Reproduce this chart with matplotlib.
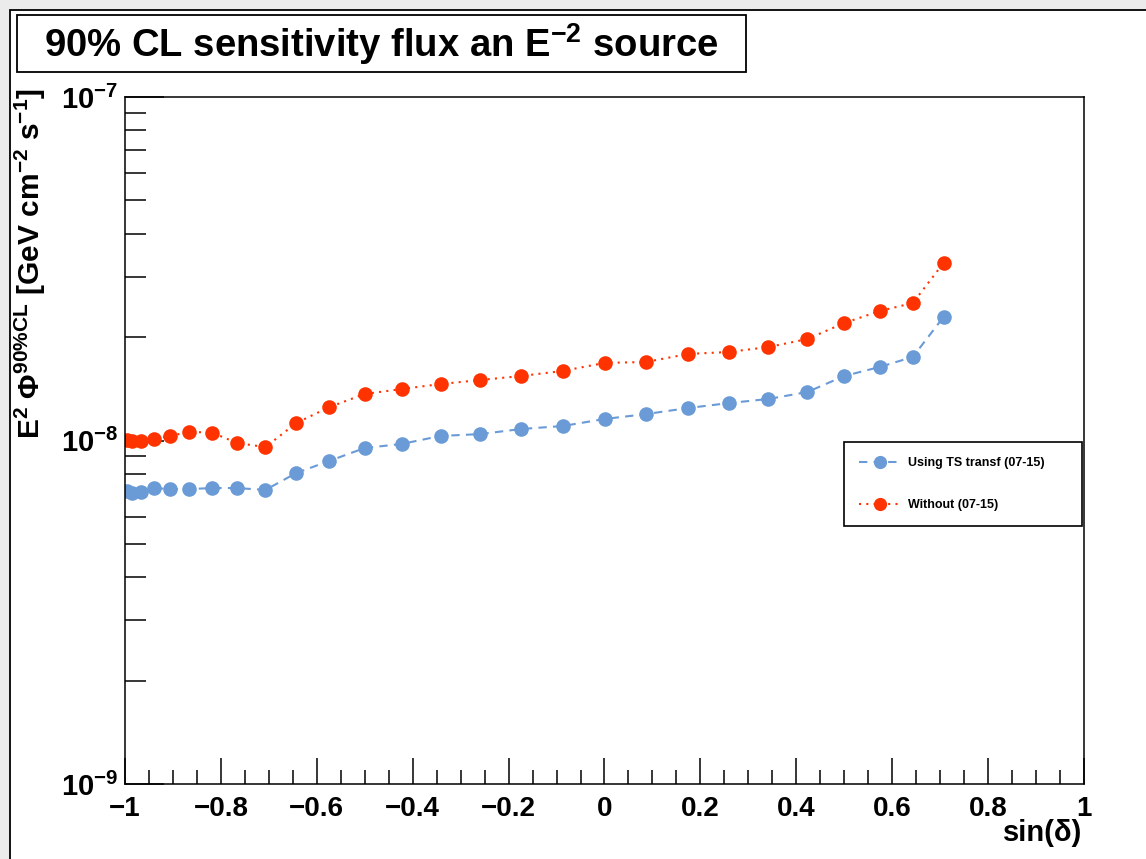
import numpy as np
import matplotlib
matplotlib.use("Agg")
import matplotlib.pyplot as plt
from matplotlib.patches import Rectangle
from matplotlib.ticker import FixedLocator, LogLocator, NullFormatter

plt.rcParams["font.family"] = ["Liberation Sans", "DejaVu Sans"]
plt.rcParams["font.weight"] = "bold"
plt.rcParams["mathtext.fontset"] = "custom"
plt.rcParams["mathtext.rm"] = "Liberation Sans:bold"
plt.rcParams["mathtext.bf"] = "Liberation Sans:bold"
plt.rcParams["mathtext.it"] = "Liberation Sans:bold"
plt.rcParams["axes.unicode_minus"] = True

# sin(declination) of each tested source position
sin_dec = [-0.996, -0.985, -0.966, -0.940, -0.906, -0.866, -0.819, -0.766, -0.707,
           -0.643, -0.574, -0.500, -0.423, -0.342, -0.259, -0.174, -0.087, 0.0,
           0.087, 0.174, 0.259, 0.342, 0.423, 0.500, 0.574, 0.643, 0.707]

# 90% CL sensitivity, in units of 1e-8 GeV cm^-2 s^-1
flux_ts_transf = [0.713, 0.703, 0.708, 0.727, 0.722, 0.722, 0.727, 0.727, 0.718,
                  0.804, 0.872, 0.951, 0.977, 1.031, 1.044, 1.080, 1.102, 1.155,
                  1.194, 1.243, 1.285, 1.321, 1.384, 1.541, 1.637, 1.751, 2.288]
flux_without = [1.003, 1.000, 0.997, 1.010, 1.031, 1.059, 1.055, 0.983, 0.957,
                1.124, 1.251, 1.366, 1.412, 1.460, 1.500, 1.541, 1.594, 1.682,
                1.693, 1.786, 1.810, 1.871, 1.974, 2.198, 2.382, 2.513, 3.286]

labels = ["Using TS transf (07-15)", "Without (07-15)"]

W, H = 1146, 859
fig = plt.figure(figsize=(W / 100, H / 100), dpi=100, facecolor="#ebebeb")

# canvas pad, kept behind the axes
fig.patches.append(Rectangle((10 / W, -0.01), 1.02, 1 - 10 / H + 0.01, transform=fig.transFigure,
                             facecolor="white", edgecolor="black", linewidth=1.3, zorder=-5))

ax = fig.add_axes([125 / W, 1 - 784 / H, (1084 - 125) / W, (784 - 97) / H])
ax.set_yscale("log")
ax.set_xlim(-1, 1)
ax.set_ylim(1e-9, 1e-7)
ax.set_facecolor("white")

x = np.array(sin_dec)
ax.plot(x, np.array(flux_ts_transf) * 1e-8, linestyle=(0, (4, 3)), color="#6a9bd6",
        linewidth=1.5, marker="o", markersize=10.5, markeredgewidth=0, label=labels[0])
ax.plot(x, np.array(flux_without) * 1e-8, linestyle=(0, (1, 2.5)), color="#ff3300",
        linewidth=1.5, marker="o", markersize=10.5, markeredgewidth=0, label=labels[1])

for s in ax.spines.values():
    s.set_linewidth(1.1)

ax.xaxis.set_major_locator(FixedLocator(np.arange(-1, 1.01, 0.2)))
ax.xaxis.set_minor_locator(FixedLocator(np.arange(-1, 1.01, 0.05)))
ax.set_xticklabels(["\u22121", "\u22120.8", "\u22120.6", "\u22120.4", "\u22120.2", "0",
                    "0.2", "0.4", "0.6", "0.8", "1"])
ax.yaxis.set_major_locator(FixedLocator([1e-9, 1e-8, 1e-7]))
ax.yaxis.set_minor_locator(LogLocator(base=10, subs=np.arange(2, 10), numticks=20))
ax.yaxis.set_minor_formatter(NullFormatter())
ax.set_yticklabels([r"$\mathbf{10^{-9}}$", r"$\mathbf{10^{-8}}$", r"$\mathbf{10^{-7}}$"])

ax.tick_params(which="both", direction="in", top=False, right=False, width=1.1)
ax.tick_params(axis="x", which="major", length=19, labelsize=20, pad=9)
ax.tick_params(axis="x", which="minor", length=10)
ax.tick_params(axis="y", which="major", length=28, labelsize=21, pad=5)
ax.tick_params(axis="y", which="minor", length=15)

fig.text(1082 / W, 1 - 833 / H, "sin(\u03b4)", fontsize=21, ha="right", va="center")
fig.text(30 / W, 1 - 88 / H,
         r"E$^{\mathbf{2}}$ $\Phi^{\mathbf{90\%CL}}$ [GeV cm$^{\mathbf{-2}}$ s$^{\mathbf{-1}}$]",
         fontsize=21.5, rotation=90, ha="center", va="top")

# title box
fig.patches.append(Rectangle((17 / W, 1 - 72 / H), (746 - 17) / W, 57 / H,
                             transform=fig.transFigure, facecolor="white",
                             edgecolor="black", linewidth=1.3))
fig.text(381.5 / W, 1 - 44 / H, r"90% CL sensitivity flux an E$^{\mathbf{-2}}$ source",
         fontsize=27.5, ha="center", va="center")

leg = ax.legend(loc="upper left",
                bbox_to_anchor=(844 / W, 1 - 527 / H, (1082 - 844) / W, 85 / H),
                bbox_transform=fig.transFigure, mode="expand", borderaxespad=0,
                fontsize=9, handlelength=3.4, handletextpad=0.5, labelspacing=2.4,
                borderpad=1.2, fancybox=False, framealpha=1, edgecolor="black")
leg.get_frame().set_linewidth(1.2)
for h in leg.legend_handles:
    h.set_markersize(9.5)

fig.savefig("out.png", dpi=100, facecolor=fig.get_facecolor())
